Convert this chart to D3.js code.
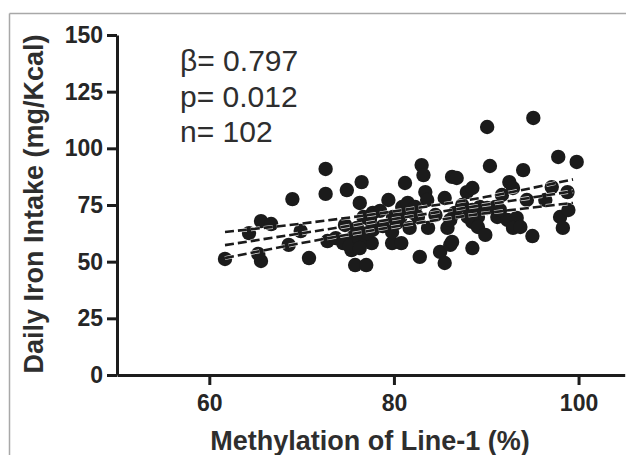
<!DOCTYPE html>
<html>
<head>
<meta charset="utf-8">
<script src="https://cdn.jsdelivr.net/npm/d3@7/dist/d3.min.js"></script>
<style>
  html, body { margin: 0; padding: 0; background: #fff; }
  svg { display: block; }
  text { font-family: "Liberation Sans", Arial, Helvetica, sans-serif; }
</style>
</head>
<body>
<svg id="chart" width="626" height="455"></svg>
<script>
// ---- Data ----
const methylation = [
  61.7, 64.3, 65.6, 66.7, 65.6, 65.3, 69.0, 68.6, 69.9, 70.8,
  72.6, 72.6, 72.8, 73.7, 74.9, 76.5, 76.3, 74.7, 74.5, 75.4,
  75.6, 75.8, 77.0, 76.7, 77.7, 78.5, 77.4, 77.6, 75.2, 76.3,
  77.1, 77.7, 76.3, 79.4, 79.9, 80.3, 79.8, 80.8, 81.2, 80.9,
  81.5, 81.7, 83.0, 83.2, 83.4, 82.3, 82.6, 83.7, 82.8, 85.0,
  86.1, 85.5, 85.8, 86.3, 85.5, 86.3, 86.8, 86.6, 86.1, 87.9,
  88.5, 88.5, 89.1, 88.5, 89.1, 88.5, 88.0, 90.1, 95.1, 90.4,
  94.0, 97.8, 99.8, 92.5, 91.7, 89.3, 91.0, 91.2, 92.3, 93.3,
  92.9, 93.7, 95.0, 94.4, 97.1, 98.8, 98.0, 98.9, 98.3, 92.9,
  83.6, 82.1, 90.1, 91.5, 80.7, 78.8, 79.8, 76.0, 84.5, 87.4,
  89.9, 96.4
];
const ironIntake = [
  51.2, 62.6, 67.9, 66.6, 50.3, 53.4, 77.6, 57.4, 63.5, 51.6,
  90.9, 79.9, 59.1, 60.4, 81.6, 85.1, 75.9, 66.2, 58.2, 55.1,
  60.9, 48.5, 48.5, 69.7, 71.5, 72.4, 68.4, 58.2, 56.9, 59.6,
  62.6, 64.0, 56.0, 77.2, 69.7, 67.1, 58.2, 58.2, 84.7, 74.1,
  75.9, 64.9, 92.6, 88.2, 80.7, 74.1, 69.7, 64.9, 52.1, 54.3,
  57.4, 49.4, 64.9, 58.7, 78.1, 87.4, 86.9, 71.5, 68.4, 80.7,
  82.5, 72.8, 69.7, 67.5, 65.3, 56.0, 69.7, 109.4, 113.4, 92.2,
  90.4, 96.2, 94.0, 85.1, 79.4, 74.1, 74.1, 69.7, 68.4, 69.3,
  64.9, 65.3, 61.3, 77.2, 82.9, 80.7, 69.7, 72.8, 64.9, 82.5,
  77.2, 71.5, 73.7, 72.8, 69.7, 65.7, 63.1, 64.9, 70.6, 75.0,
  61.8, 77.2
];

// regression line and 95% confidence band
const fitX = [61.7, 99.4];
const fitY = [57.3, 81.1];
const bandX = [61.7, 70, 80, 90, 99.4];
const bandUpper = [63.1, 66.8, 72.2, 78.6, 86.3];
const bandLower = [51.6, 58.2, 65.4, 71.4, 75.9];

const xTicks = [60, 80, 100];
const yTicks = [0, 25, 50, 75, 100, 125, 150];
const xLabel = "Methylation of Line-1 (%)";
const yLabel = "Daily Iron Intake (mg/Kcal)";
const statLines = ["\u03B2= 0.797", "p= 0.012", "n= 102"];

// ---- Chart ----
const svg = d3.select("#chart");

// outer frame (top and left border of the scanned figure)
svg.append("line").attr("x1", 9.5).attr("x2", 626).attr("y1", 13.5).attr("y2", 13.5)
  .attr("stroke", "#a8a8a8").attr("stroke-width", 1.5);
svg.append("line").attr("x1", 9.5).attr("x2", 9.5).attr("y1", 13.5).attr("y2", 455)
  .attr("stroke", "#a8a8a8").attr("stroke-width", 1.5);

const x = d3.scaleLinear().domain([50, 105]).range([117, 624.7]);
const y = d3.scaleLinear().domain([0, 150]).range([375, 35]);

const axisColor = "#1c1c1c";
const tickTextColor = "#262626";

// points
const pts = methylation.map((v, i) => ({ x: v, y: ironIntake[i] }));
svg.append("g").selectAll("circle").data(pts).join("circle")
  .attr("cx", d => x(d.x)).attr("cy", d => y(d.y)).attr("r", 7.2)
  .attr("fill", "#1b1b1b");

// dashed regression lines with a thin white halo
const line = d3.line().x(d => x(d[0])).y(d => y(d[1])).curve(d3.curveMonotoneX);
const series = [
  bandX.map((v, i) => [v, bandUpper[i]]),
  fitX.map((v, i) => [v, fitY[i]]),
  bandX.map((v, i) => [v, bandLower[i]])
];
const lg = svg.append("g");
series.forEach(s => {
  lg.append("path").attr("d", line(s)).attr("fill", "none")
    .attr("stroke", "#fff").attr("stroke-width", 4)
    .attr("stroke-dasharray", "9,4").attr("stroke-opacity", 0.85);
});
series.forEach(s => {
  lg.append("path").attr("d", line(s)).attr("fill", "none")
    .attr("stroke", "#1b1b1b").attr("stroke-width", 2.6)
    .attr("stroke-dasharray", "9,4");
});

// axes
const yAxis = svg.append("g").attr("transform", "translate(117,0)")
  .call(d3.axisLeft(y).tickValues(yTicks).tickSize(10).tickSizeOuter(0).tickPadding(4));
const xAxis = svg.append("g").attr("transform", "translate(0,375)")
  .call(d3.axisBottom(x).tickValues(xTicks).tickSize(10).tickSizeOuter(0).tickPadding(10));

[yAxis, xAxis].forEach(a => {
  a.select(".domain").attr("stroke", axisColor).attr("stroke-width", 3);
  a.selectAll(".tick line").attr("stroke", axisColor).attr("stroke-width", 3);
  a.selectAll(".tick text")
    .attr("fill", tickTextColor)
    .style("font-family", '"Liberation Sans", Arial, sans-serif')
    .style("font-size", "23px").style("font-weight", "bold");
});

// axis titles
svg.append("text")
  .attr("x", 370).attr("y", 450)
  .attr("text-anchor", "middle")
  .attr("fill", "#2e2e2e")
  .style("font-size", "27px").style("font-weight", "bold")
  .text(xLabel);

svg.append("text")
  .attr("transform", "translate(43,204) rotate(-90)")
  .attr("text-anchor", "middle")
  .attr("fill", "#2e2e2e")
  .style("font-size", "27px").style("font-weight", "bold")
  .text(yLabel);

// statistics annotation
svg.append("g").selectAll("text").data(statLines).join("text")
  .attr("x", 180).attr("y", (d, i) => 71 + i * 35.5)
  .attr("fill", "#2e2e2e")
  .style("font-size", "30px")
  .text(d => d);
</script>
</body>
</html>
